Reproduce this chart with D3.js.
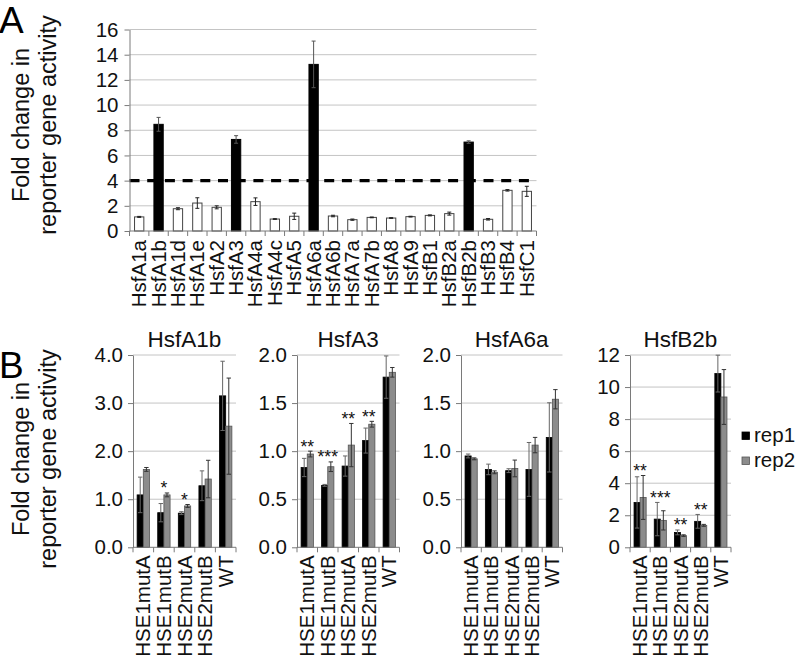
<!DOCTYPE html>
<html><head><meta charset="utf-8">
<script src="https://cdn.jsdelivr.net/npm/d3@7"></script>
<style>
html,body{margin:0;padding:0;background:#fff;}
svg{display:block;font-family:"Liberation Sans",Arial,sans-serif;}
</style></head>
<body>
<svg id="chart" width="796" height="660"></svg>
<script>
// ---------- Panel A data ----------
const catsA = ["HsfA1a","HsfA1b","HsfA1d","HsfA1e","HsfA2","HsfA3","HsfA4a","HsfA4c","HsfA5","HsfA6a","HsfA6b","HsfA7a","HsfA7b","HsfA8","HsfA9","HsfB1","HsfB2a","HsfB2b","HsfB3","HsfB4","HsfC1"];
const valsA = [1.12,8.47,1.77,2.22,1.88,7.27,2.33,0.95,1.17,13.23,1.19,0.90,1.08,1.03,1.14,1.24,1.38,7.06,0.93,3.23,3.15];
const errsA = [0.04,0.55,0.08,0.42,0.12,0.30,0.30,0.03,0.25,1.85,0.06,0.05,0.03,0.03,0.03,0.04,0.12,0.10,0.06,0.06,0.40];
const thresholdA = 4;
const ticksA = [0,2,4,6,8,10,12,14,16];

// ---------- Panel B data ----------
const groupsB = ["HSE1mutA","HSE1mutB","HSE2mutA","HSE2mutB","WT"];
const titlesB = ["HsfA1b","HsfA3","HsfA6a","HsfB2b"];
const seriesB = ["rep1","rep2"];
const rep1B = [[1.09,0.72,0.71,1.28,3.15],[0.83,0.644,0.845,1.11,1.77],[0.95,0.81,0.797,0.81,1.143],[2.80,1.76,0.93,1.62,10.84]];
const rep1ErrB = [[0.37,0.19,0.03,0.31,0.72],[0.095,0.01,0.105,0.13,0.22],[0.02,0.055,0.02,0.28,0.36],[1.60,1.04,0.15,0.43,1.15]];
const rep2B = [[1.62,1.09,0.86,1.42,2.52],[0.97,0.838,1.063,1.28,1.82],[0.92,0.78,0.82,1.063,1.54],[3.11,1.68,0.73,1.37,9.38]];
const rep2ErrB = [[0.04,0.04,0.03,0.39,1.00],[0.03,0.05,0.225,0.03,0.05],[0.01,0.015,0.087,0.08,0.10],[1.37,0.60,0.05,0.06,1.71]];
const starsB = [["","*","*","",""],["**","***","**","**",""],["","","","",""],["**","***","**","**",""]];
const ticksB = [[0,1,2,3,4],[0,0.5,1,1.5,2],[0,0.5,1,1.5,2],[0,2,4,6,8,10,12]];
const tickFmtB = [".1f",".1f",".1f","d"];

const svg = d3.select("#chart");
const AXIS = "#7a7a7a", GRID = "#c4c4c4";
const FONT = "Liberation Sans, Arial, sans-serif";
const colorsB = {rep1:"#000000", rep2:"#8c8c8c"};

// ---------- Panel A ----------
{
  const x0 = 129.5, x1 = 536.5, yTop = 29.5, yBot = 231;
  const x = d3.scaleBand().domain(catsA).range([x0,x1]).paddingInner(0.52).paddingOuter(0.26);
  const y = d3.scaleLinear().domain([0,16]).range([yBot,yTop]);
  const g = svg.append("g");
  g.selectAll(".grid").data(ticksA.filter(d=>d>0)).join("line")
    .attr("x1",x0).attr("x2",x1).attr("y1",d=>y(d)).attr("y2",d=>y(d))
    .attr("stroke",GRID).attr("stroke-width",1);
  g.selectAll(".bar").data(catsA).join("rect")
    .attr("x",d=>x(d)).attr("width",x.bandwidth())
    .attr("y",(d,i)=>y(valsA[i])).attr("height",(d,i)=>yBot-y(valsA[i]))
    .attr("fill",(d,i)=>valsA[i]>thresholdA?"#000":"#fff")
    .attr("stroke",(d,i)=>valsA[i]>thresholdA?"#000":"#444").attr("stroke-width",1);
  const eb = g.selectAll(".eb").data(catsA).join("g");
  eb.append("line").attr("x1",d=>x(d)+x.bandwidth()/2).attr("x2",d=>x(d)+x.bandwidth()/2)
    .attr("y1",(d,i)=>y(valsA[i]+errsA[i])).attr("y2",(d,i)=>y(valsA[i]-errsA[i]))
    .attr("stroke",(d,i)=>valsA[i]>thresholdA?"#555":"#222").attr("stroke-width",1);
  [1,-1].forEach(s=>{
    eb.append("line").attr("x1",d=>x(d)+x.bandwidth()/2-2).attr("x2",d=>x(d)+x.bandwidth()/2+2)
      .attr("y1",(d,i)=>y(valsA[i]+s*errsA[i])).attr("y2",(d,i)=>y(valsA[i]+s*errsA[i]))
      .attr("stroke",(d,i)=>valsA[i]>thresholdA?"#555":"#222").attr("stroke-width",1);
  });
  g.append("line").attr("x1",x0).attr("x2",x1).attr("y1",y(thresholdA)).attr("y2",y(thresholdA))
    .attr("stroke","#000").attr("stroke-width",3.4).attr("stroke-dasharray","10,7.7");
  const ya = g.append("g").attr("transform",`translate(${x0},0)`)
    .call(d3.axisLeft(y).tickValues(ticksA).tickSize(5).tickSizeOuter(0).tickPadding(6).tickFormat(d3.format("d")));
  ya.select(".domain").attr("stroke",AXIS);
  ya.selectAll(".tick line").attr("stroke",AXIS);
  ya.selectAll("text").attr("font-size",20.5).attr("fill","#111").attr("font-family",FONT);
  g.append("line").attr("x1",x0).attr("x2",x1).attr("y1",yBot).attr("y2",yBot).attr("stroke",AXIS);
  g.selectAll(".xt").data(d3.range(catsA.length+1)).join("line")
    .attr("x1",i=>x0+i*x.step()).attr("x2",i=>x0+i*x.step()).attr("y1",yBot).attr("y2",yBot+5).attr("stroke",AXIS);
  g.selectAll(".xl").data(catsA).join("text")
    .attr("transform",d=>`translate(${x(d)+x.bandwidth()/2+7},${yBot+9}) rotate(-90)`)
    .attr("text-anchor","end").attr("font-size",20.5).attr("fill","#111").text(d=>d);
  const yl = g.append("text").attr("transform","translate(0,125) rotate(-90)").attr("text-anchor","middle").attr("font-size",23.5).attr("fill","#111");
  yl.append("tspan").attr("x",0).attr("y",29).text("Fold change in");
  yl.append("tspan").attr("x",0).attr("y",56).text("reporter gene activity");
  g.append("text").attr("x",-1).attr("y",33).attr("font-size",37).attr("fill","#000").text("A");
}

// ---------- Panel B ----------
{
  const yTop = 355, yBot = 547.3;
  const xs = [[133,236],[297,399.5],[461,562.5],[630,731]];
  titlesB.forEach((title,k)=>{
    const [x0,x1] = xs[k];
    const g = svg.append("g");
    const x = d3.scaleBand().domain(groupsB).range([x0,x1]).paddingInner(0.4).paddingOuter(0.2);
    const xr = d3.scaleBand().domain(seriesB).range([0,x.bandwidth()]);
    const tv = ticksB[k];
    const y = d3.scaleLinear().domain([0,tv[tv.length-1]]).range([yBot,yTop]);
    g.selectAll(".grid").data(tv.filter(d=>d>0)).join("line")
      .attr("x1",x0).attr("x2",x1).attr("y1",d=>y(d)).attr("y2",d=>y(d))
      .attr("stroke",GRID).attr("stroke-width",1);
    const vals = {rep1:rep1B[k], rep2:rep2B[k]};
    const errs = {rep1:rep1ErrB[k], rep2:rep2ErrB[k]};
    seriesB.forEach(s=>{
      g.selectAll(".b"+s).data(groupsB).join("rect")
        .attr("x",d=>x(d)+xr(s)).attr("width",xr.bandwidth())
        .attr("y",(d,i)=>y(vals[s][i])).attr("height",(d,i)=>yBot-y(vals[s][i]))
        .attr("fill",colorsB[s]).attr("stroke",s==="rep1"?"#000":"#555").attr("stroke-width",0.8);
    });
    seriesB.forEach(s=>{
      const c = s==="rep1"?"#666":"#333";
      const cx = d=>x(d)+xr(s)+xr.bandwidth()/2;
      g.selectAll(".e"+s).data(groupsB).join("line")
        .attr("x1",cx).attr("x2",cx)
        .attr("y1",(d,i)=>y(vals[s][i]+errs[s][i])).attr("y2",(d,i)=>y(Math.max(0,vals[s][i]-errs[s][i])))
        .attr("stroke",c).attr("stroke-width",1);
      [1,-1].forEach(sg=>{
        g.selectAll(".c"+s+sg).data(groupsB).join("line")
          .attr("x1",d=>cx(d)-2.2).attr("x2",d=>cx(d)+2.2)
          .attr("y1",(d,i)=>y(vals[s][i]+sg*errs[s][i])).attr("y2",(d,i)=>y(vals[s][i]+sg*errs[s][i]))
          .attr("stroke",c).attr("stroke-width",1);
      });
    });
    g.selectAll(".st").data(groupsB).join("text")
      .attr("x",d=>x(d)+x.bandwidth()/2)
      .attr("y",(d,i)=>Math.min(y(rep1B[k][i]+rep1ErrB[k][i]),y(rep2B[k][i]+rep2ErrB[k][i]))+1.5)
      .attr("text-anchor","middle").attr("font-size",17.5).attr("fill","#111")
      .text((d,i)=>starsB[k][i]);
    const ya = g.append("g").attr("transform",`translate(${x0},0)`)
      .call(d3.axisLeft(y).tickValues(tv).tickSize(5).tickSizeOuter(0).tickPadding(5).tickFormat(d3.format(tickFmtB[k])));
    ya.select(".domain").attr("stroke",AXIS);
    ya.selectAll(".tick line").attr("stroke",AXIS);
    ya.selectAll("text").attr("font-size",20.5).attr("fill","#111").attr("font-family",FONT);
    g.append("line").attr("x1",x0).attr("x2",x1).attr("y1",yBot).attr("y2",yBot).attr("stroke",AXIS);
    g.selectAll(".xt").data(d3.range(groupsB.length+1)).join("line")
      .attr("x1",i=>x0+i*x.step()).attr("x2",i=>x0+i*x.step()).attr("y1",yBot).attr("y2",yBot+5).attr("stroke",AXIS);
    g.selectAll(".xl").data(groupsB).join("text")
      .attr("transform",d=>`translate(${x(d)+x.bandwidth()/2+7},${yBot+8}) rotate(-90)`)
      .attr("text-anchor","end").attr("font-size",20.5).attr("fill","#111").text(d=>d);
    g.append("text").attr("x",(x0+x1)/2).attr("y",347).attr("text-anchor","middle")
      .attr("font-size",22.5).attr("fill","#111").text(title);
  });
  const lg = svg.append("g");
  seriesB.forEach((s,i)=>{
    lg.append("rect").attr("x",742).attr("y",432+i*25).attr("width",7.5).attr("height",7.5)
      .attr("fill",colorsB[s]).attr("stroke",s==="rep1"?"#000":"#555").attr("stroke-width",0.8);
    lg.append("text").attr("x",754).attr("y",442+i*25).attr("font-size",20.5).attr("fill","#111").text(s);
  });
  const yl = svg.append("text").attr("transform","translate(0,459) rotate(-90)").attr("text-anchor","middle").attr("font-size",23.5).attr("fill","#111");
  yl.append("tspan").attr("x",0).attr("y",29).text("Fold change in");
  yl.append("tspan").attr("x",0).attr("y",56).text("reporter gene activity");
  svg.append("text").attr("x",-1).attr("y",378).attr("font-size",37).attr("fill","#000").text("B");
}
</script>
</body></html>
